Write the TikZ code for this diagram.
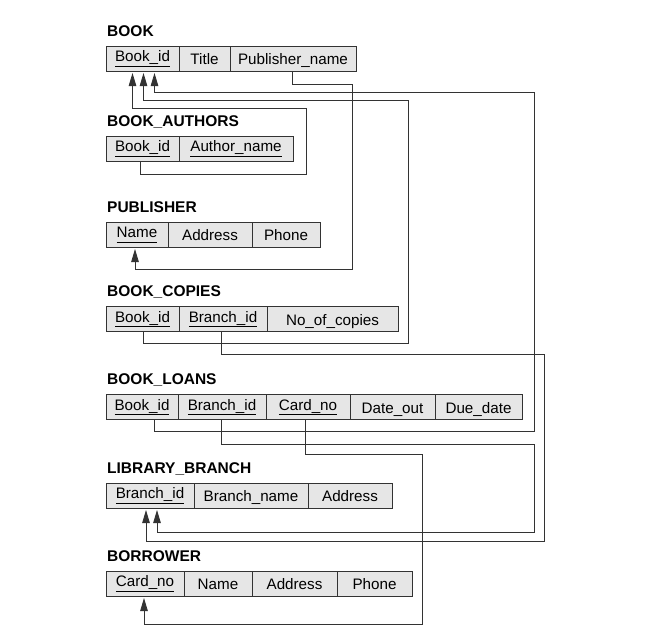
\documentclass[tikz,border=0pt]{standalone}
\usepackage{fontspec}
\setmainfont{Liberation Sans}
\usetikzlibrary{arrows.meta,positioning}
\definecolor{cellgray}{HTML}{E6E6E6}
\definecolor{linegray}{HTML}{333333}
\newlength\pkwd
\newcommand{\pk}[1]{\settowidth{\pkwd}{#1}\raisebox{3pt}{#1\llap{\rule[-5pt]{\pkwd}{0.7pt}}}}

\begin{document}
\begin{tikzpicture}[x=1pt,y=-1pt,>={Triangle[length=13pt,width=7.5pt]}]
  \tikzstyle{cell}=[draw=linegray,fill=cellgray,line width=0.9pt,outer sep=0pt,inner sep=0pt,minimum height=25pt,text height=12pt,text depth=0pt,font=\fontsize{15.2}{18}\selectfont]
  \tikzstyle{tname}=[anchor=base west,inner sep=0pt,font=\fontsize{15.5}{18}\selectfont\bfseries]
  \tikzstyle{fk}=[->,draw=linegray,line width=0.9pt]
  \useasboundingbox (0,0) rectangle (658,637);

  % BOOK
  \node[cell,minimum width=73pt,anchor=north west] (b1) at (106,46) {\pk{Book\_id}};
  \node[cell,minimum width=51pt,right=0pt of b1] (b2) {Title};
  \node[cell,minimum width=126pt,right=0pt of b2] (b3) {Publisher\_name};
  \node[tname] (bookT) at ([xshift=1pt,yshift=10pt]b1.north west) {BOOK};

  % BOOK_AUTHORS
  \node[cell,minimum width=73pt,anchor=north west] (ba1) at (106,136) {\pk{Book\_id}};
  \node[cell,minimum width=114pt,right=0pt of ba1] (ba2) {\pk{Author\_name}};
  \node[tname] (authT) at ([xshift=1pt,yshift=10pt]ba1.north west) {BOOK\_AUTHORS};

  % PUBLISHER
  \node[cell,minimum width=62pt,anchor=north west] (p1) at (106,222) {\pk{Name}};
  \node[cell,minimum width=84pt,right=0pt of p1] (p2) {Address};
  \node[cell,minimum width=68pt,right=0pt of p2] (p3) {Phone};
  \node[tname] (pubT) at ([xshift=1pt,yshift=10pt]p1.north west) {PUBLISHER};

  % BOOK_COPIES
  \node[cell,minimum width=73pt,anchor=north west] (bc1) at (106,306.5) {\pk{Book\_id}};
  \node[cell,minimum width=88pt,right=0pt of bc1] (bc2) {\pk{Branch\_id}};
  \node[cell,minimum width=131pt,right=0pt of bc2] (bc3) {No\_of\_copies};
  \node[tname] (copT) at ([xshift=1pt,yshift=10pt]bc1.north west) {BOOK\_COPIES};

  % BOOK_LOANS
  \node[cell,minimum width=72pt,anchor=north west] (bl1) at (106,394.5) {\pk{Book\_id}};
  \node[cell,minimum width=88pt,right=0pt of bl1] (bl2) {\pk{Branch\_id}};
  \node[cell,minimum width=84pt,right=0pt of bl2] (bl3) {\pk{Card\_no}};
  \node[cell,minimum width=85pt,right=0pt of bl3] (bl4) {Date\_out};
  \node[cell,minimum width=87pt,right=0pt of bl4] (bl5) {Due\_date};
  \node[tname] (loanT) at ([xshift=1pt,yshift=10pt]bl1.north west) {BOOK\_LOANS};

  % LIBRARY_BRANCH
  \node[cell,minimum width=88pt,anchor=north west] (lb1) at (106,483) {\pk{Branch\_id}};
  \node[cell,minimum width=114pt,right=0pt of lb1] (lb2) {Branch\_name};
  \node[cell,minimum width=84pt,right=0pt of lb2] (lb3) {Address};
  \node[tname] (libT) at ([xshift=1pt,yshift=10pt]lb1.north west) {LIBRARY\_BRANCH};

  % BORROWER
  \node[cell,minimum width=78pt,anchor=north west] (br1) at (106,571) {\pk{Card\_no}};
  \node[cell,minimum width=68pt,right=0pt of br1] (br2) {Name};
  \node[cell,minimum width=85pt,right=0pt of br2] (br3) {Address};
  \node[cell,minimum width=75pt,right=0pt of br3] (br4) {Phone};
  \node[tname] (borT) at ([xshift=1pt,yshift=10pt]br1.north west) {BORROWER};

  % referential integrity constraints
  \draw[fk] ([xshift=-2pt]ba1.south) -- ++(0,13) -| (306,108) -| ([xshift=-10pt,yshift=-2pt]b1.south);
  \draw[fk] ([xshift=1pt]bc1.south) -- ++(0,12) -| (408,100) -| ([xshift=1pt,yshift=-2pt]b1.south);
  \draw[fk] ([xshift=12pt]bl1.south) -- ++(0,12) -| (534,92.5) -| ([xshift=12pt,yshift=-2pt]b1.south);
  \draw[fk] ([xshift=-1pt]b3.south) -- ++(0,13) -| (352,269) -| ([xshift=-2pt,yshift=-2pt]p1.south);
  \draw[fk] ([xshift=-2pt]bc2.south) -- ++(0,23) -| (544,541) -| ([xshift=-4pt,yshift=-2pt]lb1.south);
  \draw[fk] ([xshift=-1pt]bl2.south) -- ++(0,24.5) -| (534,532.5) -| ([xshift=7pt,yshift=-2pt]lb1.south);
  \draw[fk] ([xshift=-3pt]bl3.south) -- ++(0,34.5) -| (422,624) -| ([xshift=-1pt,yshift=-2pt]br1.south);
\end{tikzpicture}
\end{document}
